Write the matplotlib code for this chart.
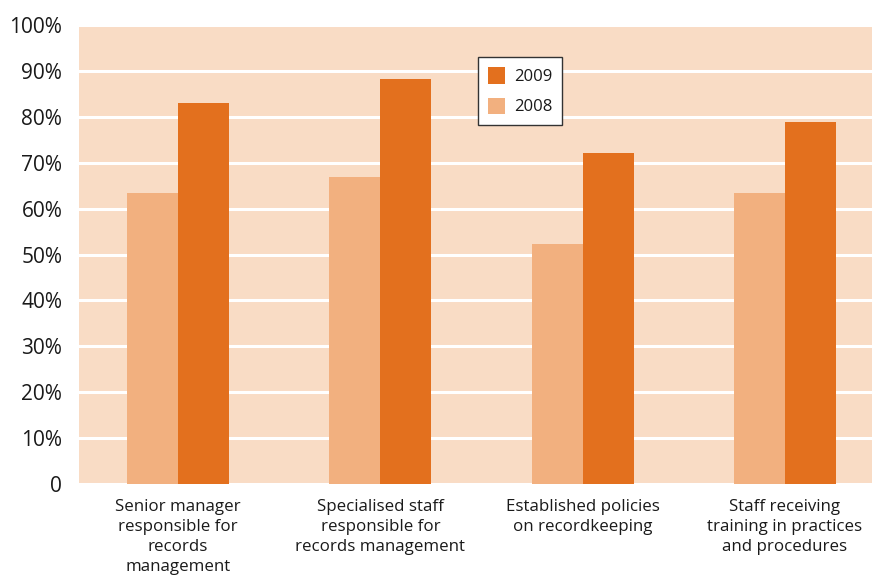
import numpy as np
import matplotlib.pyplot as plt
from matplotlib.ticker import FuncFormatter

categories = ["Senior manager\nresponsible for\nrecords\nmanagement",
              "Specialised staff\nresponsible for\nrecords management",
              "Established policies\non recordkeeping",
              "Staff receiving\ntraining in practices\nand procedures"]
vals_2008 = [63.3, 66.8, 52.3, 63.3]
vals_2009 = [83.0, 88.3, 72.1, 78.9]

plt.rcParams['font.family'] = ['Open Sans', 'DejaVu Sans']

fig = plt.figure(figsize=(8.72, 5.78), dpi=100)
ax = fig.add_axes([0.0906, 0.1626, 0.9094, 0.7941])
ax.set_facecolor('#F9DCC5')

x = np.arange(len(categories))
w = 0.252
ax.bar(x - w / 2, vals_2008, w, color='#F2B07F', label='2008', zorder=3)
ax.bar(x + w / 2, vals_2009, w, color='#E3701E', label='2009', zorder=3)

ax.set_ylim(0, 100)
ax.set_xlim(-0.49, 3.43)
ax.set_yticks(range(0, 101, 10))
ax.yaxis.set_major_formatter(FuncFormatter(lambda v, p: '0' if v == 0 else '%d%%' % v))
ax.tick_params(axis='y', length=0, labelsize=15, pad=12, colors='#1a1a1a')
ax.tick_params(axis='x', length=0, labelsize=12.2, pad=11, colors='#1a1a1a')
ax.set_xticks(x)
ax.set_xticklabels(categories, linespacing=1.33)
ax.grid(axis='y', color='white', linewidth=2.2, zorder=1)
ax.set_axisbelow(True)
for s in ax.spines.values():
    s.set_visible(False)

handles, labels = ax.get_legend_handles_labels()
leg = ax.legend(handles[::-1], labels[::-1], loc='upper left',
                bbox_to_anchor=(0.503, 0.93), borderaxespad=0, fontsize=12,
                frameon=True, fancybox=False, edgecolor='#333333', framealpha=1,
                handlelength=1.0, handleheight=1.15, handletextpad=0.55,
                labelspacing=0.75, borderpad=0.6)
leg.get_frame().set_linewidth(1.0)
for t in leg.get_texts():
    t.set_color('#1a1a1a')

fig.savefig('out.png', dpi=100)
